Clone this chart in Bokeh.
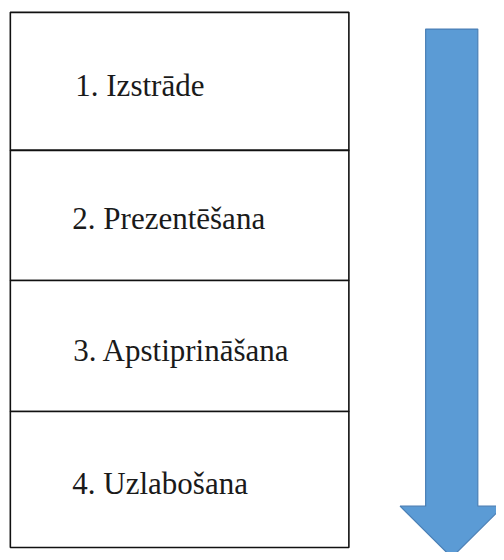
from bokeh.plotting import figure
from bokeh.models import Range1d, ColumnDataSource
from bokeh.core.properties import value
from bokeh.embed import file_html
from bokeh.resources import INLINE

# Data
steps = ["1. Izstrāde", "2. Prezentēšana", "3. Apstiprināšana", "4. Uzlabošana"]

# layout (reference pixel coordinates)
box_edges = [12, 152, 284, 417, 555]
text_x = [76, 73, 74, 73]
text_base = [86, 221, 355, 490]

p = figure(width=496, height=552, output_backend="svg", toolbar_location=None,
           x_range=Range1d(0, 504), y_range=Range1d(560, 0),
           min_border=0, outline_line_color=None)
p.axis.visible = False
p.grid.visible = False
p.background_fill_color = "white"

left, right = 10, 354
src = ColumnDataSource(dict(
    left=[left] * len(steps), right=[right] * len(steps),
    top=box_edges[:-1], bottom=box_edges[1:], label=steps,
    tx=text_x, ty=text_base,
))
p.quad(left="left", right="right", top="top", bottom="bottom", source=src,
       fill_color="white", line_color="#111111", line_width=1.6)
p.text(x="tx", y="ty", text="label", source=src, text_font=value("'Liberation Serif', 'DejaVu Serif', serif"),
       text_font_size="31px", text_color="#1a1a1a", text_baseline="alphabetic",
       text_align="left")

# arrow
ax = [432, 485, 485, 511, 458.5, 406, 432]
ay = [29, 29, 513, 513, 565, 513, 513]
p.patch(ax, ay, fill_color="#5B9BD5", line_color="#4A7FB5", line_width=1.2)

open("out.html", "w").write(file_html(p, INLINE))
